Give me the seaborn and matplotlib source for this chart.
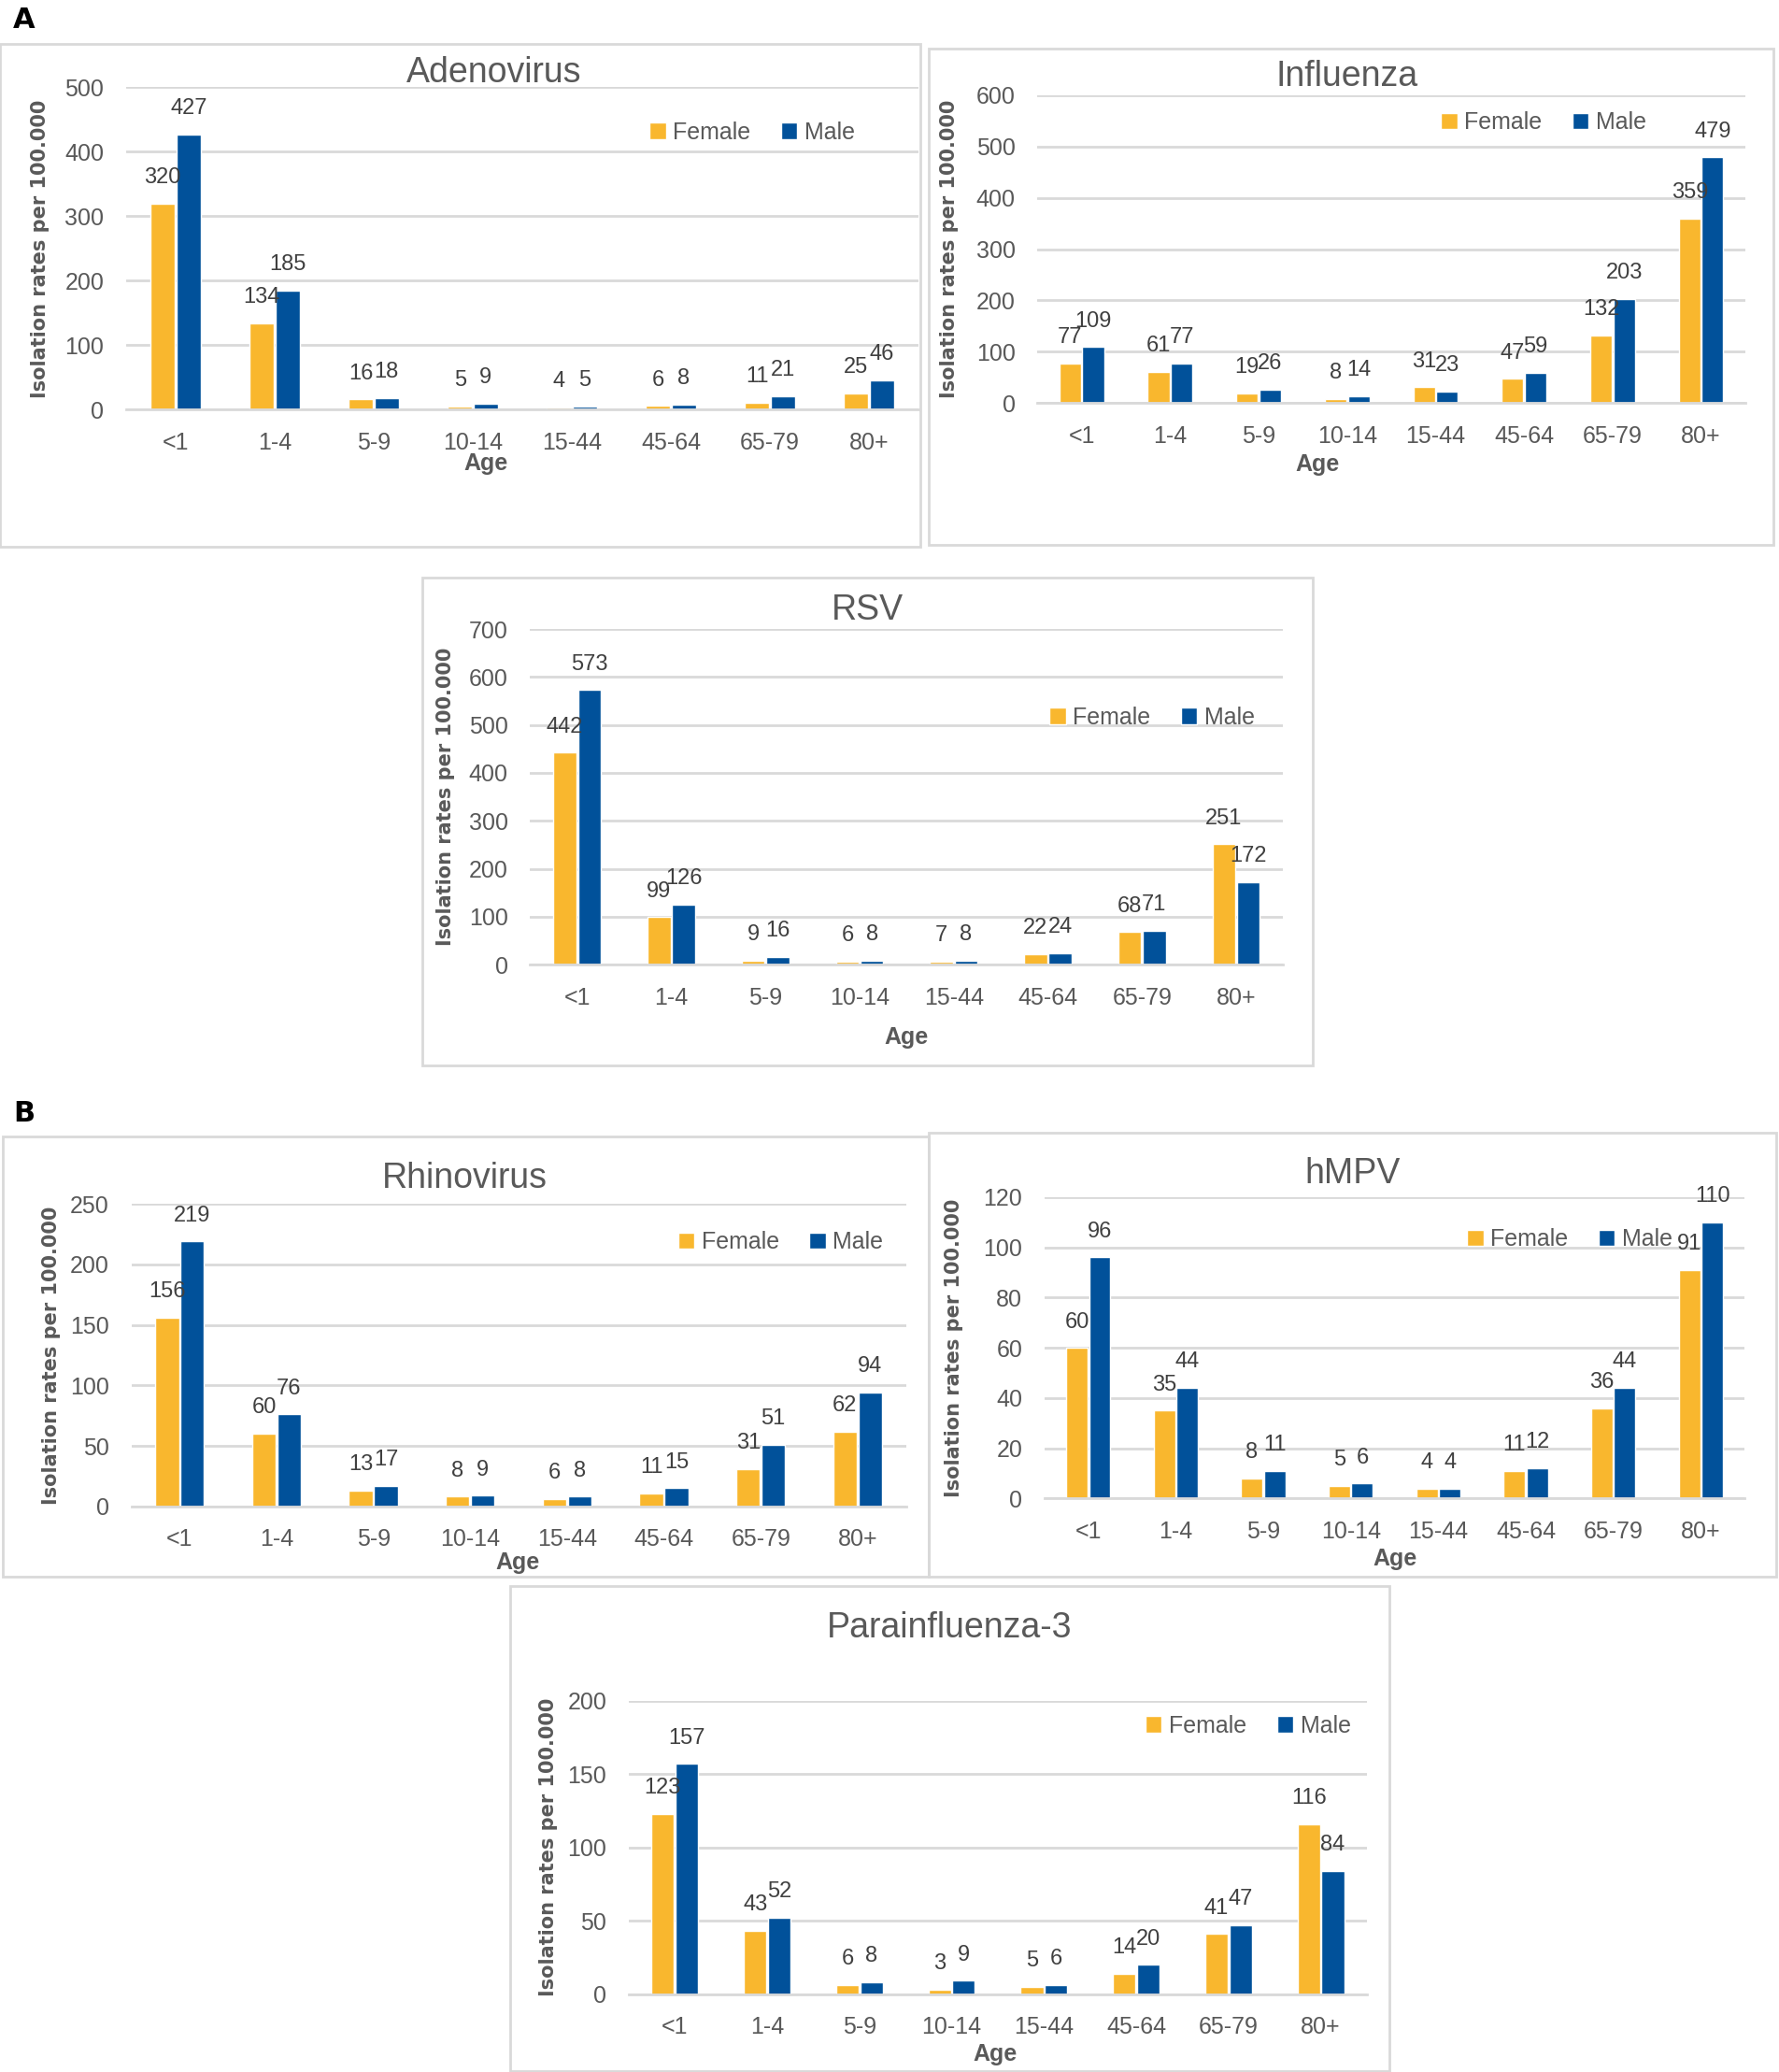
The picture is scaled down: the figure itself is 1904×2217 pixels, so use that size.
import pandas as pd
import matplotlib
matplotlib.use('Agg')
import matplotlib.pyplot as plt
import matplotlib.patches as mpatches
import seaborn as sns

# Dados (taxas de isolamento por 100.000)
idades = ['<1', '1-4', '5-9', '10-14', '15-44', '45-64', '65-79', '80+']

adeno_f = [320, 134, 16, 5, 4, 6, 11, 25]
adeno_m = [427, 185, 18, 9, 5, 8, 21, 46]
flu_f = [77, 61, 19, 8, 31, 47, 132, 359]
flu_m = [109, 77, 26, 14, 23, 59, 203, 479]
rsv_f = [442, 99, 9, 6, 7, 22, 68, 251]
rsv_m = [573, 126, 16, 8, 8, 24, 71, 172]
rhino_f = [156, 60, 13, 8, 6, 11, 31, 62]
rhino_m = [219, 76, 17, 9, 8, 15, 51, 94]
hmpv_f = [60, 35, 8, 5, 4, 11, 36, 91]
hmpv_m = [96, 44, 11, 6, 4, 12, 44, 110]
para_f = [123, 43, 6, 3, 5, 14, 41, 116]
para_m = [157, 52, 8, 9, 6, 20, 47, 84]

sns.set_theme(style='white')
plt.rcParams['font.family'] = ['Liberation Sans', 'DejaVu Sans']

AMARELO = '#F9B72E'
AZUL = '#01519A'
CINZA = '#595959'
GRADE = '#D9D9D9'

W, H = 1347, 1568
fig = plt.figure(figsize=(19.04, 22.17), dpi=100)


def caixa(x0, y0, x1, y1):
    fig.add_artist(mpatches.Rectangle((x0 / W, 1 - y1 / H), (x1 - x0) / W, (y1 - y0) / H,
                                      transform=fig.transFigure, fill=False,
                                      edgecolor=GRADE, lw=2))


def painel(titulo, fem, masc, rect, ymax, passo, tpos, lpos, agepos, ylx):
    esq, dir_, topo, base = rect
    ax = fig.add_axes([esq / W, 1 - base / H, (dir_ - esq) / W, (base - topo) / H])
    df = pd.DataFrame({'Age': idades * 2,
                       'rate': fem + masc,
                       'sex': ['Female'] * 8 + ['Male'] * 8})
    sns.barplot(data=df, x='Age', y='rate', hue='sex', palette=[AMARELO, AZUL],
                width=0.52, gap=0.06, ax=ax, saturation=1, legend=True)
    for c in ax.containers:
        ax.bar_label(c, padding=12, fontsize=17, color='#404040')
    ax.set_ylim(0, ymax)
    ax.set_xlim(-0.5, 7.5)
    ax.set_yticks(range(0, ymax + 1, passo))
    ax.yaxis.grid(True, color=GRADE, lw=2)
    ax.set_axisbelow(True)
    for s in ['left', 'top', 'right']:
        ax.spines[s].set_visible(False)
    ax.spines['bottom'].set_color(GRADE)
    ax.spines['bottom'].set_linewidth(2)
    ax.tick_params(axis='both', labelsize=18, colors=CINZA, length=0)
    ax.tick_params(axis='y', pad=17)
    ax.set_xticks([i - 0.5 for i in range(9)], minor=True)
    ax.tick_params(axis='x', which='minor', length=9, width=2, color=GRADE)
    ax.tick_params(axis='x', which='major', pad=17)
    ax.set_title(titulo, x=tpos[0], y=tpos[1], va='center', fontsize=27, color=CINZA, pad=0)
    ax.set_xlabel('Age', fontsize=18, fontweight='bold', color=CINZA)
    ax.xaxis.label.set_va('center')
    ax.xaxis.set_label_coords(agepos[0], agepos[1])
    ax.set_ylabel('Isolation rates per 100.000', fontsize=15, fontweight='bold',
                  color=CINZA, family='DejaVu Sans')
    ax.yaxis.label.set_va('center')
    ax.yaxis.set_label_coords(ylx, 0.5)
    ax.legend(loc='center', bbox_to_anchor=lpos, ncol=2, frameon=False, fontsize=18,
              handlelength=0.7, handleheight=0.7, handletextpad=0.3, columnspacing=1.3,
              labelcolor=CINZA, title=None)
    return ax


caixa(0, 33, 697, 414)
caixa(703, 37, 1343, 412)
caixa(320, 437, 994, 806)
caixa(2, 860, 703, 1193)
caixa(703, 857, 1345, 1193)
caixa(386, 1200, 1052, 1567)

painel('Adenovirus', adeno_f, adeno_m, (95.5, 695.5, 66, 310), 500, 100,
       (0.464, 1.045), (0.79, 0.86), (0.454, -0.168), -0.108)
painel('Influenza', flu_f, flu_m, (785.5, 1321.5, 72, 305), 600, 100,
       (0.4375, 1.06), (0.715, 0.91), (0.396, -0.20), -0.124)
painel('RSV', rsv_f, rsv_m, (401.4, 971.6, 476, 730), 700, 100,
       (0.448, 1.055), (0.826, 0.736), (0.499, -0.217), -0.112)
painel('Rhinovirus', rhino_f, rhino_m, (99.4, 686, 911, 1140), 250, 50,
       (0.43, 1.083), (0.838, 0.873), (0.499, -0.185), -0.103)
painel('hMPV', hmpv_f, hmpv_m, (790.9, 1321, 906, 1134), 120, 20,
       (0.44, 1.079), (0.75, 0.86), (0.50, -0.20), -0.13)
painel('Parainfluenza-3', para_f, para_m, (476, 1035, 1287, 1509), 200, 50,
       (0.435, 1.248), (0.839, 0.914), (0.496, -0.205), -0.108)

fig.text(10 / W, 1 - 15 / H, 'A', fontsize=22, fontweight='bold', color='black',
         va='center', family='DejaVu Sans')
fig.text(10 / W, 1 - 843 / H, 'B', fontsize=22, fontweight='bold', color='black',
         va='center', family='DejaVu Sans')

fig.savefig('out.png', dpi=100, facecolor='white')
